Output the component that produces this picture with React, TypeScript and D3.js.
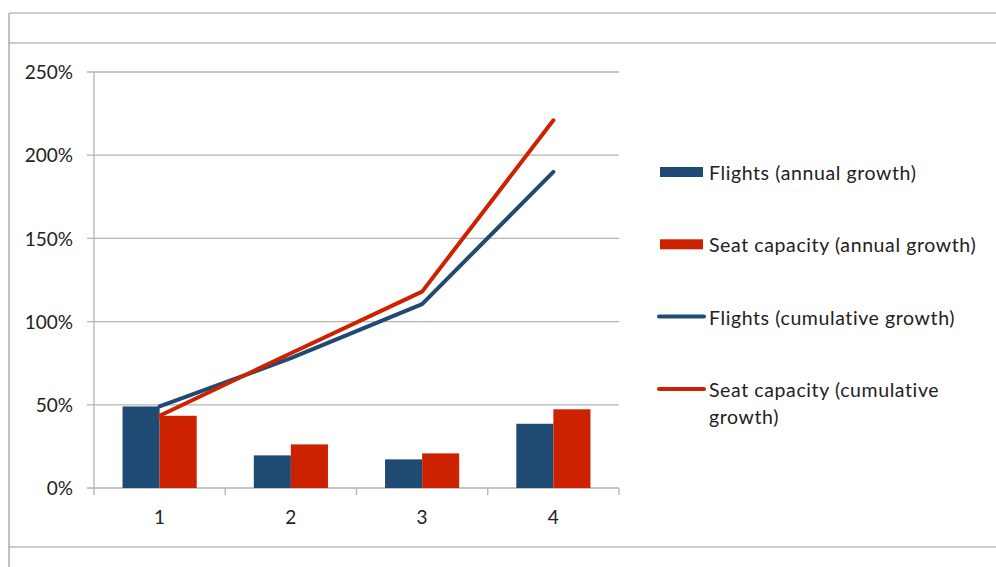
import React from "react";
import { scaleBand, scaleLinear, line, format } from "d3";

// chart values
const categories = ["1", "2", "3", "4"];
const flightsAnnual = [0.49, 0.196, 0.172, 0.386];
const seatsAnnual = [0.434, 0.262, 0.208, 0.473];
const flightsCumulative = [0.49, 0.78, 1.105, 1.9];
const seatsCumulative = [0.434, 0.81, 1.18, 2.21];
const yTicks = [0, 0.5, 1, 1.5, 2, 2.5];

const BLUE = "#1f4a73";
const RED = "#cc2200";
const GRID = "#b3b3b3";
const FONT = "Lato, 'Open Sans', sans-serif";

const legendItems = [
  { kind: "bar", color: BLUE, lines: ["Flights (annual growth)"] },
  { kind: "bar", color: RED, lines: ["Seat capacity (annual growth)"] },
  { kind: "line", color: BLUE, lines: ["Flights (cumulative growth)"] },
  { kind: "line", color: RED, lines: ["Seat capacity (cumulative", "growth)"] },
];

export default function App() {
  const width = 996;
  const height = 567;

  const x = scaleBand<string>().domain(categories).range([94, 619]);
  const xSub = scaleBand<string>()
    .domain(["flights", "seats"])
    .range([0, x.bandwidth()])
    .paddingOuter(0.77);
  const y = scaleLinear().domain([0, 2.5]).range([488, 72]);
  const pct = format(".0%");

  const mid = (c: string) => (x(c) as number) + x.bandwidth() / 2;
  const path = line<number>()
    .x((_, i) => mid(categories[i]))
    .y((d) => y(d));

  return (
    <svg
      width={width}
      height={height}
      style={{ position: "absolute", left: 0, top: 0, background: "#fff" }}
      fontFamily={FONT}
    >
      {/* outer frame */}
      <line x1={9} x2={width} y1={13} y2={13} stroke="#999" strokeWidth={1.2} />
      <line x1={9} x2={width} y1={43} y2={43} stroke="#999" strokeWidth={1.2} />
      <line x1={9} x2={width} y1={547} y2={547} stroke="#999" strokeWidth={1.2} />
      <line x1={9} x2={9} y1={13} y2={height} stroke="#999" strokeWidth={1.2} />

      {/* grid + y labels */}
      {yTicks.map((t) => (
        <g key={t}>
          <line x1={87} x2={619} y1={y(t)} y2={y(t)} stroke={GRID} strokeWidth={1.3} />
          <text
            x={73}
            y={y(t)}
            dy="0.38em"
            textAnchor="end"
            fontSize={19}
            fill="#222"
          >
            {pct(t)}
          </text>
        </g>
      ))}
      <line x1={94} x2={94} y1={y(2.5)} y2={y(0)} stroke={GRID} strokeWidth={1.3} />

      {/* x ticks + labels */}
      {categories.map((c) => (
        <line
          key={"t" + c}
          x1={x(c) as number}
          x2={x(c) as number}
          y1={y(0)}
          y2={y(0) + 7}
          stroke={GRID}
          strokeWidth={1.3}
        />
      ))}
      <line x1={619} x2={619} y1={y(0)} y2={y(0) + 7} stroke={GRID} strokeWidth={1.3} />
      {categories.map((c) => (
        <text key={"l" + c} x={mid(c)} y={524} textAnchor="middle" fontSize={19} fill="#222">
          {c}
        </text>
      ))}

      {/* bars */}
      {categories.map((c, i) => (
        <g key={"b" + c} transform={`translate(${x(c)},0)`}>
          <rect
            x={xSub("flights")}
            y={y(flightsAnnual[i])}
            width={xSub.bandwidth()}
            height={y(0) - y(flightsAnnual[i])}
            fill={BLUE}
          />
          <rect
            x={xSub("seats")}
            y={y(seatsAnnual[i])}
            width={xSub.bandwidth()}
            height={y(0) - y(seatsAnnual[i])}
            fill={RED}
          />
        </g>
      ))}

      {/* cumulative lines */}
      <path d={path(flightsCumulative) || ""} fill="none" stroke={BLUE} strokeWidth={4} strokeLinecap="round" strokeLinejoin="round" />
      <path d={path(seatsCumulative) || ""} fill="none" stroke={RED} strokeWidth={4} strokeLinecap="round" strokeLinejoin="round" />

      {/* legend */}
      {legendItems.map((item, i) => {
        const cy = 172 + i * 72.3;
        return (
          <g key={"lg" + i}>
            {item.kind === "bar" ? (
              <rect x={660} y={cy - 5} width={43} height={10} fill={item.color} />
            ) : (
              <line x1={659} x2={704} y1={cy} y2={cy} stroke={item.color} strokeWidth={4} strokeLinecap="round" />
            )}
            {item.lines.map((t, j) => (
              <text key={j} x={709} y={cy + 8 + j * 27} fontSize={19.5} letterSpacing={0.6} fill="#222">
                {t}
              </text>
            ))}
          </g>
        );
      })}
    </svg>
  );
}
